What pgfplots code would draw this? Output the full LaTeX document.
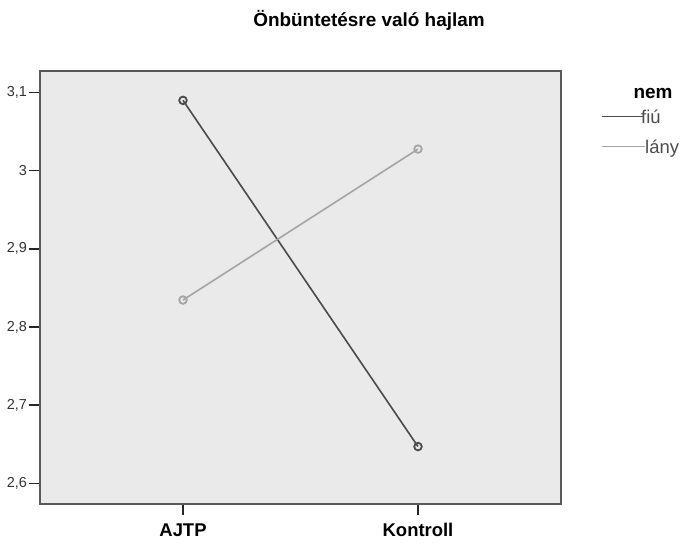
\documentclass[border=0pt]{standalone}
\usepackage{fontspec}
\setmainfont{Liberation Sans}
\usepackage{pgfplots}
\pgfplotsset{compat=1.18}
\definecolor{bg}{HTML}{EAEAEA}
\definecolor{framec}{HTML}{5A5A5A}
\definecolor{darkl}{HTML}{4A4A4A}
\definecolor{lightl}{HTML}{A5A5A5}
\begin{document}
\begin{tikzpicture}
\begin{axis}[
  at={(0,0)}, anchor=south west,
  scale only axis, width=521bp, height=433bp,
  xmin=-0.6085, xmax=1.6085, ymin=2.5735, ymax=3.1276,
  xtick={0,1}, xticklabels={AJTP,Kontroll},
  ytick={2.6,2.7,2.8,2.9,3.0,3.1},
  yticklabels={{2,6},{2,7},{2,8},{2,9},3,{3,1}},
  tick align=outside, major tick length=11bp, tick pos=left,
  axis line style={framec, line width=1.6bp},
  every tick/.style={black!85, line width=1.4bp},
  axis background/.style={fill=bg},
  x tick label style={font=\fontsize{18.5}{21}\selectfont\bfseries, yshift=-5bp},
  y tick label style={font=\fontsize{14.5}{17}\selectfont, color=black!80, xshift=1.5bp},
  clip=false,
]
\addplot[darkl, line width=1.6bp, mark=o, mark size=3.8bp, mark options={line width=1.8bp}]
  coordinates {(0,3.090) (1,2.647)};
\addplot[lightl, line width=1.6bp, mark=o, mark size=3.8bp, mark options={line width=1.8bp}]
  coordinates {(0,2.8345) (1,3.0277)};
\end{axis}
\node[font=\fontsize{19}{22}\selectfont\bfseries] at (329bp,484bp) {Önbüntetésre való hajlam};
\node[font=\fontsize{19}{22}\selectfont\bfseries] at (613bp,411bp) {nem};
\draw[darkl, line width=1.6bp] (562bp,387.3bp) -- (603bp,387.3bp);
\draw[lightl, line width=1.6bp] (562bp,357.3bp) -- (605bp,357.3bp);
\node[anchor=base west, inner sep=0pt, font=\fontsize{18.5}{21}\selectfont, text=black!70] at (601bp,380bp) {fiú};
\node[anchor=base west, inner sep=0pt, font=\fontsize{18.5}{21}\selectfont, text=black!70] at (605bp,350bp) {lány};
\path (-40bp,-46bp) rectangle (644bp,504bp);
\end{tikzpicture}
\end{document}
